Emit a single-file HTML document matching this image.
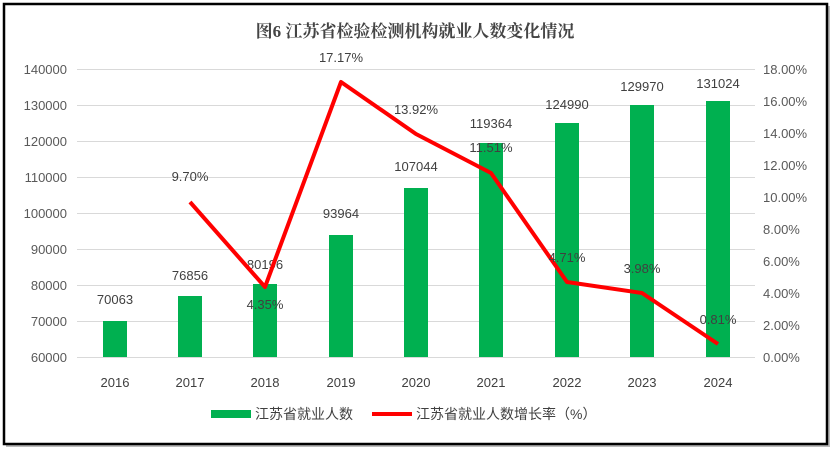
<!DOCTYPE html>
<html><head><meta charset="utf-8"><style>
body{margin:0;background:#fff;width:840px;height:455px;overflow:hidden}
</style></head><body>
<svg width="840" height="455" xmlns="http://www.w3.org/2000/svg" font-family="'Liberation Sans','Noto Sans CJK SC',sans-serif">
<rect x="6" y="6" width="824" height="441" fill="#bbb"/>
<rect x="4" y="4" width="823" height="440" fill="#fff" stroke="#000" stroke-width="2.5"/>
<text x="415" y="37" text-anchor="middle" font-size="17" font-weight="bold" fill="#444" font-family="'Liberation Serif','Noto Serif CJK SC',serif">图6  江苏省检验检测机构就业人数变化情况</text>
<g stroke="#d9d9d9" stroke-width="1">
<line x1="77" x2="755" y1="69.5" y2="69.5"/><line x1="77" x2="755" y1="105.5" y2="105.5"/>
<line x1="77" x2="755" y1="141.5" y2="141.5"/><line x1="77" x2="755" y1="177.5" y2="177.5"/>
<line x1="77" x2="755" y1="213.5" y2="213.5"/><line x1="77" x2="755" y1="249.5" y2="249.5"/>
<line x1="77" x2="755" y1="285.5" y2="285.5"/><line x1="77" x2="755" y1="321.5" y2="321.5"/>
<line x1="77" x2="755" y1="357.5" y2="357.5"/>
</g>
<g font-size="13" fill="#595959" text-anchor="end">
<text x="67" y="74">140000</text><text x="67" y="110">130000</text><text x="67" y="146">120000</text>
<text x="67" y="182">110000</text><text x="67" y="218">100000</text><text x="67" y="254">90000</text>
<text x="67" y="290">80000</text><text x="67" y="326">70000</text><text x="67" y="362">60000</text>
</g>
<g font-size="13" fill="#595959" text-anchor="start">
<text x="763" y="74">18.00%</text><text x="763" y="106">16.00%</text><text x="763" y="138">14.00%</text>
<text x="763" y="170">12.00%</text><text x="763" y="202">10.00%</text><text x="763" y="234">8.00%</text>
<text x="763" y="266">6.00%</text><text x="763" y="298">4.00%</text><text x="763" y="330">2.00%</text>
<text x="763" y="362">0.00%</text>
</g>
<g fill="#00b050">
<rect x="103" y="321" width="24" height="36"/><rect x="178" y="296" width="24" height="61"/>
<rect x="253" y="284" width="24" height="73"/><rect x="329" y="235" width="24" height="122"/>
<rect x="404" y="188" width="24" height="169"/><rect x="479" y="143" width="24" height="214"/>
<rect x="555" y="123" width="24" height="234"/><rect x="630" y="105" width="24" height="252"/>
<rect x="706" y="101" width="24" height="256"/>
</g>
<g font-size="13" fill="#404040" text-anchor="middle">
<text x="115" y="387">2016</text><text x="190" y="387">2017</text><text x="265" y="387">2018</text>
<text x="341" y="387">2019</text><text x="416" y="387">2020</text><text x="491" y="387">2021</text>
<text x="567" y="387">2022</text><text x="642" y="387">2023</text><text x="718" y="387">2024</text>
</g>
<g font-size="13" fill="#404040" text-anchor="middle">
<text x="115" y="304">70063</text><text x="190" y="280">76856</text><text x="265" y="269">80196</text>
<text x="341" y="218">93964</text><text x="416" y="171">107044</text><text x="491" y="128">119364</text>
<text x="567" y="109">124990</text><text x="642" y="91">129970</text><text x="718" y="88">131024</text>
</g>
<polyline points="190,202 265,287 341,82 416,134 491,173 567,282 642,293 718,344" fill="none" stroke="#ff0000" stroke-width="4" stroke-linejoin="round"/>
<g font-size="13" fill="#404040" text-anchor="middle">
<text x="190" y="181">9.70%</text><text x="265" y="309">4.35%</text><text x="341" y="62">17.17%</text>
<text x="416" y="114">13.92%</text><text x="491" y="152">11.51%</text><text x="567" y="262">4.71%</text>
<text x="642" y="273">3.98%</text><text x="718" y="324">0.81%</text>
</g>
<rect x="211" y="410" width="40" height="8" fill="#00b050"/>
<text x="255" y="419" font-size="14" fill="#404040">江苏省就业人数</text>
<line x1="372" x2="412" y1="414" y2="414" stroke="#ff0000" stroke-width="4"/>
<text x="416" y="419" font-size="14" fill="#404040">江苏省就业人数增长率（%）</text>
</svg>
</body></html>
